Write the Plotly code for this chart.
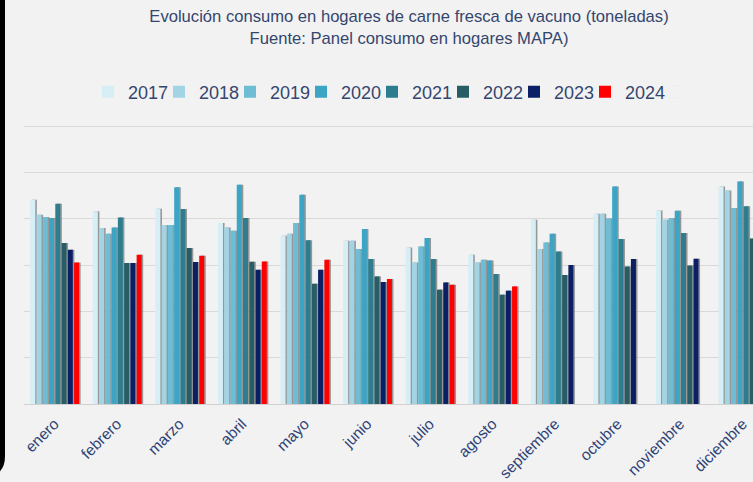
import plotly.graph_objects as go

meses = ["enero", "febrero", "marzo", "abril", "mayo", "junio", "julio",
         "agosto", "septiembre", "octubre", "noviembre", "diciembre"]

anios = ["2017", "2018", "2019", "2020", "2021", "2022", "2023", "2024"]

v2017 = [22050, 20790, 21080, 19530, 18160, 17620, 16900, 16110, 19890, 20540, 20890, 23480]
v2018 = [20430, 18990, 19320, 19060, 18380, 17620, 15280, 15280, 16730, 20540, 19890, 23050]
v2019 = [20180, 18380, 19320, 18700, 19530, 16730, 17010, 15570, 17440, 20030, 20070, 21150]
v2020 = [20070, 19060, 23380, 23670, 22590, 18890, 17910, 15500, 18380, 23480, 20860, 24020]
v2021 = [21620, 20140, 21040, 20070, 17660, 15650, 15650, 14030, 16470, 17810, 18450, 21330]
v2022 = [17370, 15220, 16840, 15360, 12980, 13770, 12340, 11800, 13920, 14850, 14960, 17870]
v2023 = [16650, 15220, 15320, 14490, 14490, 13170, 13120, 12230, 15000, 15650, 15680, 18900]
v2024 = [15280, 16110, 16000, 15390, 15570, 13490, 12870, 12690, None, None, None, None]

series = [v2017, v2018, v2019, v2020, v2021, v2022, v2023, v2024]
colores = ["#d6eef5", "#a3d4e4", "#6ebdd4", "#3ca4c4", "#2e7d8f", "#285d66", "#0b1f66", "#ff0000"]

W, H = 753, 482
ML, MR, MT, MB = 24, 0, 122, 78
PW, PH = W - ML - MR, H - MT - MB
BG = "#f2f2f2"
TXT = "#34466e"

fig = go.Figure()

slot = 0.1
bw = 0.08
# shadows first
for k, (name, vals) in enumerate(zip(anios, series)):
    fig.add_trace(go.Bar(
        x=meses, y=vals, name=name, showlegend=False, hoverinfo="skip",
        offset=-0.4 + k * slot + 0.025, width=bw,
        marker=dict(color="rgba(120,120,120,0.75)", line=dict(width=0)),
    ))
for k, (name, vals) in enumerate(zip(anios, series)):
    fig.add_trace(go.Bar(
        x=meses, y=vals, name=name,
        offset=-0.4 + k * slot, width=bw,
        marker=dict(color=colores[k], line=dict(width=0)),
    ))
# empty spacer entry so the last legend label is not clipped
fig.add_trace(go.Bar(x=[None], y=[None], name="", hoverinfo="skip",
                     marker=dict(color="rgba(0,0,0,0)")))

def px2x(px):
    return (px - ML) / PW

def py2y(py):
    return (H - MB - py) / PH

strip = (f"M {px2x(-2)},{py2y(-2)} L {px2x(5)},{py2y(-2)} L {px2x(5)},{py2y(456)} "
         f"Q {px2x(5)},{py2y(468)} {px2x(-2)},{py2y(473)} Z")

fig.update_layout(
    width=W, height=H,
    margin=dict(l=ML, r=MR, t=MT, b=MB, autoexpand=False),
    paper_bgcolor=BG, plot_bgcolor=BG,
    barmode="overlay",
    font=dict(family="Liberation Sans, Arial, sans-serif", color=TXT),
    title=dict(
        text="Evolución consumo en hogares de carne fresca de vacuno (toneladas)<br>Fuente: Panel consumo en hogares MAPA)",
        x=409 / W, xref="container", xanchor="center",
        y=1 - 22 / H, yref="container", yanchor="top",
        font=dict(size=16.6, color=TXT),
    ),
    legend=dict(
        orientation="h", x=px2x(88), xanchor="left",
        y=py2y(92), yanchor="middle",
        font=dict(size=18, color=TXT),
        entrywidth=26, bgcolor="rgba(0,0,0,0)",
        traceorder="normal",
    ),
    xaxis=dict(
        type="category", range=[-0.5, -0.5 + PW / 62.57],
        tickangle=-45, tickfont=dict(size=15.5, color="#2f4275"),
        showgrid=False, showline=False, ticks="", automargin=False,
        ticklabelshift=-1, ticklabelstandoff=7,
    ),
    yaxis=dict(
        range=[0, PH / 46.33 * 5000], dtick=5000, showticklabels=False,
        showgrid=True, gridcolor="#d9d9d9", gridwidth=1, automargin=False,
        zeroline=True, zerolinecolor="#d0d0d0", zerolinewidth=1,
    ),
    shapes=[dict(type="path", path=strip, xref="paper", yref="paper",
                 fillcolor="#000000", line=dict(width=0), layer="above")],
    showlegend=True,
)

fig.write_html("out.html", config={"displayModeBar": False},
               post_script="document.body.style.margin='0';document.body.style.overflow='hidden';")
